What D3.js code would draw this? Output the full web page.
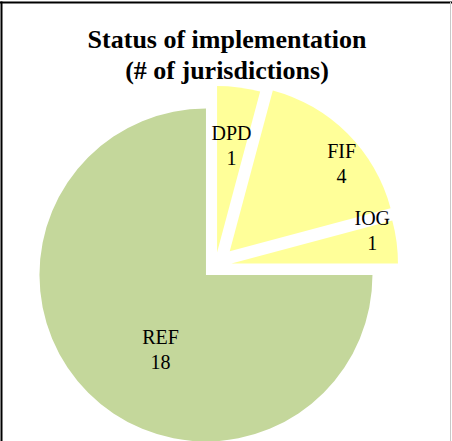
<!DOCTYPE html>
<html>
<head>
<meta charset="utf-8">
<script src="https://cdn.jsdelivr.net/npm/d3@7"></script>
<style>
  html, body { margin: 0; padding: 0; background: #fff; }
  svg { display: block; }
</style>
</head>
<body>
<div id="chart"></div>
<script>
// Chart data
const categories = ['DPD', 'FIF', 'IOG', 'REF'];
const counts = [1, 4, 1, 18];
const titleLines = ['Status of implementation', '(# of jurisdictions)'];

// Styling / layout (not data)
const colors = ['#FFFF99', '#FFFF99', '#FFFF99', '#C4D79B'];
const explode = [13.4, 20.4, 16.3, 13.2];           // px each slice is pulled out
const labelPlace = [[108, 7.7], [142, 52], [144.5, 77], [87, 211.5]]; // [dist, angle°] from slice tip

const W = 452, H = 441;
const center = { x: 215.3, y: 265.7 };
const radius = 166.5;

const svg = d3.select('#chart')
  .append('svg')
  .attr('width', W)
  .attr('height', H);

svg.append('rect')
  .attr('width', W)
  .attr('height', H)
  .attr('fill', '#fff');

// Pie slices
const slices = categories.map((c, i) => ({ name: c, value: counts[i], idx: i }));
const pie = d3.pie().sort(null).value(d => d.value);
const arc = d3.arc().innerRadius(0).outerRadius(radius);

const g = svg.append('g')
  .attr('transform', `translate(${center.x},${center.y})`);

const arcs = pie(slices);

// offset of each slice tip along its bisector
const tip = a => {
  const mid = (a.startAngle + a.endAngle) / 2;
  const e = explode[a.data.idx];
  return [Math.sin(mid) * e, -Math.cos(mid) * e];
};

g.selectAll('.slice')
  .data(arcs)
  .enter()
  .append('path')
  .attr('class', 'slice')
  .attr('transform', d => `translate(${tip(d)[0]},${tip(d)[1]})`)
  .attr('d', arc)
  .attr('fill', d => colors[d.data.idx]);

// Data labels
const labels = g.selectAll('.label')
  .data(arcs)
  .enter()
  .append('text')
  .attr('class', 'label')
  .attr('transform', d => {
    const [tx, ty] = tip(d);
    const [dist, ang] = labelPlace[d.data.idx];
    const rad = ang * Math.PI / 180;
    return `translate(${tx + Math.sin(rad) * dist},${ty - Math.cos(rad) * dist})`;
  })
  .attr('text-anchor', 'middle')
  .style('font-family', '"Liberation Serif", "Times New Roman", serif')
  .style('font-size', '20px')
  .attr('fill', '#000');

labels.append('tspan')
  .attr('x', 0)
  .attr('dy', '-0.28em')
  .text(d => d.data.name);

labels.append('tspan')
  .attr('x', 0)
  .attr('dy', '1.25em')
  .text(d => d.data.value);

// Title
svg.append('text')
  .attr('x', 227)
  .attr('y', 48)
  .attr('text-anchor', 'middle')
  .style('font-family', '"Liberation Serif", "Times New Roman", serif')
  .style('font-size', '26px')
  .style('font-weight', 'bold')
  .selectAll('tspan')
  .data(titleLines)
  .enter()
  .append('tspan')
  .attr('x', 227)
  .attr('dy', (d, i) => i === 0 ? 0 : 30.5)
  .text(d => d);

// Chart area border (left/top dark, right light)
svg.append('line')
  .attr('x1', 1.5).attr('y1', 1.5).attr('x2', 1.5).attr('y2', H)
  .attr('stroke', '#000').attr('stroke-width', 2);
svg.append('line')
  .attr('x1', 0).attr('y1', 2.5).attr('x2', W).attr('y2', 2.5)
  .attr('stroke', '#000').attr('stroke-width', 2);
svg.append('line')
  .attr('x1', 450.5).attr('y1', 2).attr('x2', 450.5).attr('y2', H)
  .attr('stroke', '#c8c8c8').attr('stroke-width', 1);
</script>
</body>
</html>
